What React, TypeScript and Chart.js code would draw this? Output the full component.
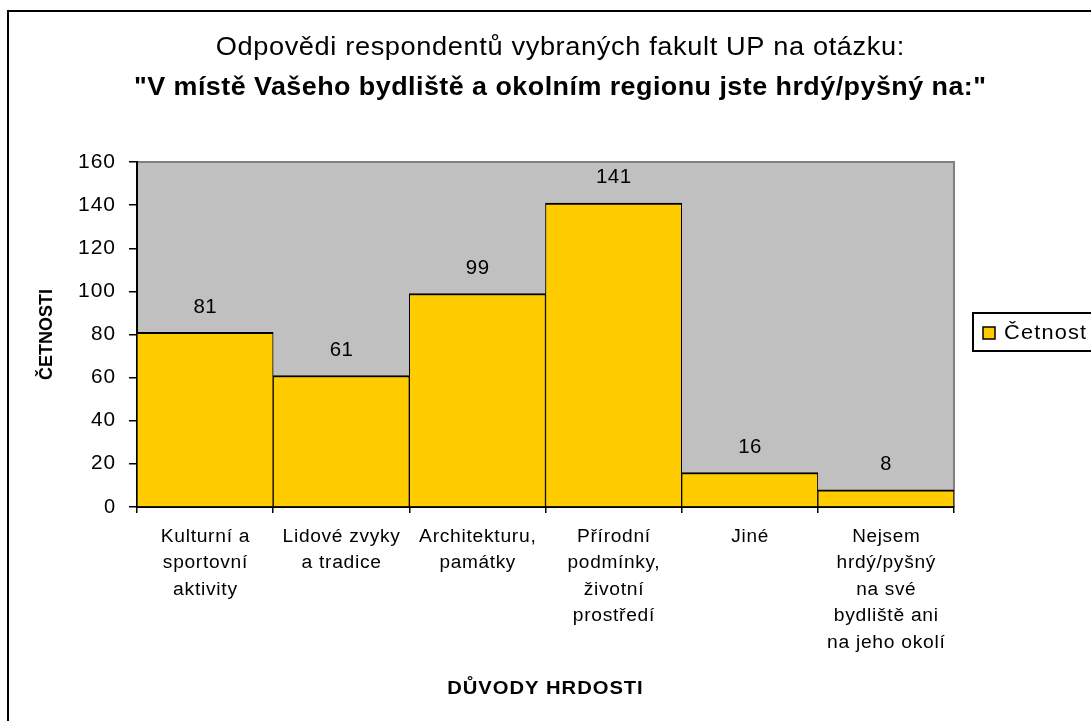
import React, { useEffect, useRef } from "react";
import { Chart, registerables } from "chart.js";

Chart.register(...registerables);

const TITLE_LINE_1 = "Odpovědi respondentů vybraných fakult UP na otázku:";
const TITLE_LINE_2 = "\"V místě Vašeho bydliště a okolním regionu jste hrdý/pyšný na:\"";
const CATEGORIES: string[][] = [
  ["Kulturní a", "sportovní", "aktivity"],
  ["Lidové zvyky", "a tradice"],
  ["Architekturu,", "památky"],
  ["Přírodní", "podmínky,", "životní", "prostředí"],
  ["Jiné"],
  ["Nejsem", "hrdý/pyšný", "na své", "bydliště ani", "na jeho okolí"],
];
const VALUES: number[] = [81, 61, 99, 141, 16, 8];
const SERIES_NAME = "Četnost";
const Y_TITLE = "ČETNOSTI";
const X_TITLE = "DŮVODY HRDOSTI";
const Y_MIN = 0;
const Y_MAX = 160;
const Y_STEP = 20;

const FONT = "'Liberation Sans', Arial, sans-serif";
const BAR_COLOR = "#FFCC00";
const PLOT_BG = "#C0C0C0";

const W = 1091;
const H = 721;
const PLOT_LEFT = 137;
const PLOT_RIGHT = 954;
const PLOT_TOP = 162;
const PLOT_BOTTOM = 507;

// Widens text by `ls` px per character gap: half as letter spacing, half as horizontal scale
function drawText(ctx: any, text: string, x: number, y: number, align: string, ls: number) {
  ctx.save();
  ctx.textAlign = "left";
  const gaps = Math.max(text.length - 1, 0);
  const base = ctx.measureText(text).width;
  const target = base + ls * gaps;
  let l2 = 0;
  if ("letterSpacing" in ctx) {
    l2 = ls / 2;
    ctx.letterSpacing = `${l2}px`;
  }
  const inner = base + l2 * gaps;
  const sx = target / inner;
  let x0 = x;
  if (align === "center") x0 = x - target / 2;
  else if (align === "right") x0 = x - target;
  ctx.translate(x0, y);
  ctx.scale(sx, 1);
  ctx.fillText(text, 0, 0);
  ctx.restore();
}

const decorPlugin = {
  id: "decor",
  beforeDraw(chart: any) {
    const ctx = chart.ctx;
    const a = chart.chartArea;
    ctx.save();
    ctx.fillStyle = "#ffffff";
    ctx.fillRect(0, 0, chart.width, chart.height);
    // outer frame
    ctx.strokeStyle = "#000000";
    ctx.lineWidth = 2;
    ctx.strokeRect(8, 11, chart.width + 20, chart.height + 20);
    // plot area
    ctx.fillStyle = PLOT_BG;
    ctx.fillRect(a.left, a.top, a.right - a.left, a.bottom - a.top);
    ctx.strokeStyle = "#808080";
    ctx.lineWidth = 2;
    ctx.beginPath();
    ctx.moveTo(a.left, a.top);
    ctx.lineTo(a.right, a.top);
    ctx.lineTo(a.right, a.bottom);
    ctx.stroke();
    // titles
    ctx.fillStyle = "#000000";
    ctx.textBaseline = "middle";
    ctx.font = `26px ${FONT}`;
    drawText(ctx, TITLE_LINE_1, 560, 48, "center", 1.2);
    ctx.font = `bold 26px ${FONT}`;
    drawText(ctx, TITLE_LINE_2, 560, 88, "center", 0.9);
    // axis titles
    ctx.font = `bold 19px ${FONT}`;
    drawText(ctx, X_TITLE, 545, 689, "center", 1.8);
    ctx.save();
    ctx.translate(47, (a.top + a.bottom) / 2);
    ctx.rotate(-Math.PI / 2);
    ctx.textAlign = "center";
    ctx.font = `bold 18px ${FONT}`;
    ctx.fillText(Y_TITLE, 0, 0);
    ctx.restore();
    // legend
    const lx = 973;
    const ly = 313;
    ctx.strokeStyle = "#000000";
    ctx.lineWidth = 2;
    ctx.strokeRect(lx, ly, 200, 38);
    ctx.fillStyle = BAR_COLOR;
    ctx.fillRect(983, 327, 12, 12);
    ctx.lineWidth = 1.5;
    ctx.strokeRect(983, 327, 12, 12);
    ctx.fillStyle = "#000000";
    ctx.font = `20px ${FONT}`;
    drawText(ctx, SERIES_NAME, 1004, 333, "left", 2.2);
    ctx.restore();
  },
  afterDraw(chart: any) {
    const ctx = chart.ctx;
    const xs = chart.scales.x;
    const ys = chart.scales.y;
    ctx.save();
    ctx.fillStyle = "#000000";
    ctx.textBaseline = "middle";
    // y tick labels
    ctx.font = `20px ${FONT}`;
    ys.ticks.forEach((t: any) => {
      drawText(ctx, String(t.value), 115, ys.getPixelForValue(t.value), "right", 1.8);
    });
    // category labels
    ctx.font = `18px ${FONT}`;
    CATEGORIES.forEach((lines, i) => {
      const cx = xs.getPixelForValue(i);
      lines.forEach((ln, k) => {
        drawText(ctx, ln, cx, 537 + k * 26.5, "center", 1.3);
      });
    });
    ctx.restore();
  },
  afterDatasetsDraw(chart: any) {
    const ctx = chart.ctx;
    const meta = chart.getDatasetMeta(0);
    const data = chart.data.datasets[0].data;
    ctx.save();
    ctx.fillStyle = "#000000";
    ctx.textBaseline = "middle";
    ctx.font = `20px ${FONT}`;
    meta.data.forEach((bar: any, i: number) => {
      drawText(ctx, String(data[i]), bar.x, bar.y - 25, "center", 1);
    });
    ctx.restore();
  },
};

export default function App() {
  const ref = useRef<HTMLCanvasElement | null>(null);
  useEffect(() => {
    if (!ref.current) return;
    const chart = new Chart(ref.current, {
      type: "bar",
      data: {
        labels: CATEGORIES,
        datasets: [
          {
            label: SERIES_NAME,
            data: VALUES,
            backgroundColor: BAR_COLOR,
            borderColor: "#000000",
            borderWidth: { top: 2, left: 1, right: 1, bottom: 0 },
            borderSkipped: "start",
            barPercentage: 1,
            categoryPercentage: 1,
          },
        ],
      },
      options: {
        animation: false,
        responsive: true,
        maintainAspectRatio: false,
        devicePixelRatio: 1,
        layout: {
          padding: { top: PLOT_TOP, right: W - PLOT_RIGHT, bottom: 0, left: 0 },
        },
        plugins: {
          legend: { display: false },
          title: { display: false },
          tooltip: { enabled: false },
        },
        scales: {
          x: {
            offset: true,
            grid: {
              offset: true,
              drawOnChartArea: false,
              drawTicks: true,
              tickLength: 6,
              color: "#000000",
              lineWidth: 1.5,
            },
            border: { display: true, color: "#000000", width: 2 },
            ticks: { display: false, autoSkip: false, maxRotation: 0 },
            afterFit(scale: any) {
              scale.height = H - PLOT_BOTTOM;
            },
          },
          y: {
            min: Y_MIN,
            max: Y_MAX,
            grid: {
              drawOnChartArea: false,
              drawTicks: true,
              tickLength: 8,
              color: "#000000",
              lineWidth: 1.5,
            },
            border: { display: true, color: "#000000", width: 2 },
            ticks: { display: false, stepSize: Y_STEP },
            afterFit(scale: any) {
              scale.width = PLOT_LEFT;
            },
          },
        },
      },
      plugins: [decorPlugin],
    });
    return () => chart.destroy();
  }, []);
  return (
    <div style={{ position: "absolute", left: 0, top: 0, width: W, height: H }}>
      <canvas ref={ref} />
    </div>
  );
}
